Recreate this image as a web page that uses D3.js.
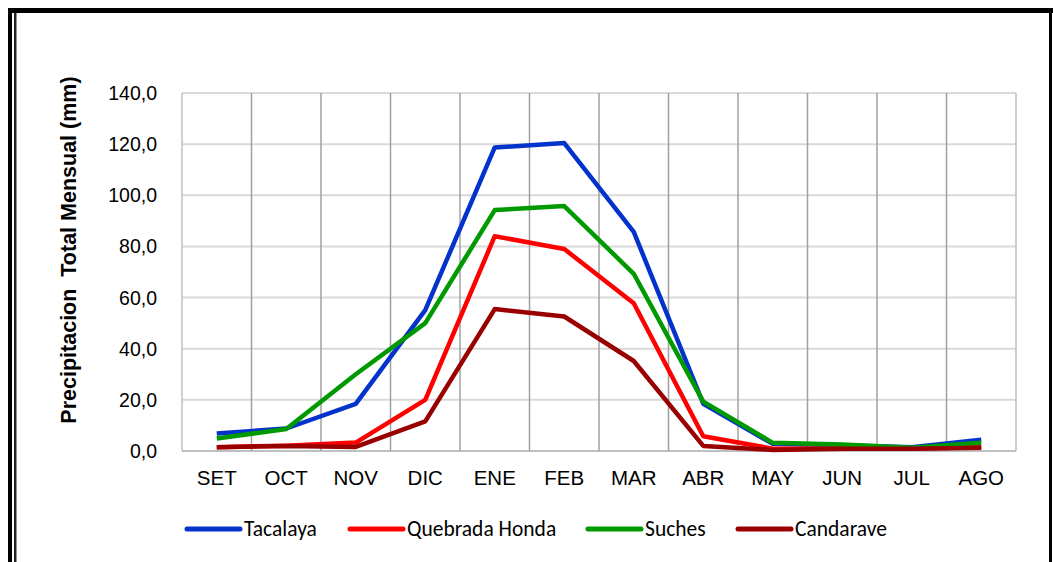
<!DOCTYPE html>
<html lang="es">
<head>
<meta charset="UTF-8">
<title>Precipitacion Total Mensual</title>
<script src="https://d3js.org/d3.v7.min.js"></script>
<style>
  body { margin: 0; padding: 0; background: #fff; overflow: hidden; }
  svg { display: block; }
  .tick-label { font-family: Arial, "Liberation Sans", sans-serif; fill: #000; }
  .legend-text { font-family: Carlito, Calibri, "Liberation Sans Narrow", Lato, sans-serif; font-size: 21.5px; fill: #000; }
</style>
</head>
<body>
<svg id="chart" width="1053" height="562"></svg>
<script>
// months (hydrological year)
const months = ["SET", "OCT", "NOV", "DIC", "ENE", "FEB", "MAR", "ABR", "MAY", "JUN", "JUL", "AGO"];

// monthly total precipitation (mm) per station
const tacalaya       = [6.8, 8.8, 18.4, 55.1, 118.7, 120.4, 85.7, 18.5, 2.8, 2.2, 1.5, 4.4];
const quebradaHonda  = [1.5, 2.1, 3.3, 20.0, 84.0, 79.0, 57.8, 5.8, 0.9, 1.0, 1.0, 1.5];
const suches         = [4.9, 8.6, 30.0, 50.0, 94.2, 95.8, 69.3, 19.3, 3.2, 2.5, 1.3, 3.2];
const candarave      = [1.5, 2.0, 1.6, 11.6, 55.5, 52.6, 35.2, 2.0, 0.4, 0.9, 0.9, 1.3];

const seriesNames  = ["Tacalaya", "Quebrada Honda", "Suches", "Candarave"];
const seriesColors = ["#0433cc", "#ff0000", "#009900", "#990000"];
const yTicks = [0, 20, 40, 60, 80, 100, 120, 140];

const series = [tacalaya, quebradaHonda, suches, candarave].map((vals, i) => ({
  name: seriesNames[i], color: seriesColors[i], values: vals
}));

const svg = d3.select("#chart");
const W = 1053, H = 562;
const plot = { left: 182, right: 1016, top: 93, bottom: 451 };

svg.append("rect").attr("width", W).attr("height", H).attr("fill", "#fff");

// frame borders
svg.append("rect").attr("x", 8).attr("y", 8).attr("width", W - 8).attr("height", 5).attr("fill", "#000");
svg.append("rect").attr("x", 8).attr("y", 8).attr("width", 4).attr("height", H - 8).attr("fill", "#000");
svg.append("rect").attr("x", 14).attr("y", 13).attr("width", 2.5).attr("height", H - 13).attr("fill", "#222");
svg.append("rect").attr("x", 1049).attr("y", 8).attr("width", 3).attr("height", H - 8).attr("fill", "#000");

const x = d3.scaleBand().domain(months).range([plot.left, plot.right]).padding(0);
const y = d3.scaleLinear().domain([0, 140]).range([plot.bottom, plot.top]);

// horizontal gridlines
svg.append("g")
  .selectAll("line")
  .data(yTicks)
  .join("line")
  .attr("x1", plot.left).attr("x2", plot.right)
  .attr("y1", d => y(d)).attr("y2", d => y(d))
  .attr("stroke", d => d === 0 ? "#bfbfbf" : "#d9d9d9")
  .attr("stroke-width", 2);

// vertical gridlines at category boundaries
const bounds = months.map(m => x(m)).concat([plot.right]);
svg.append("g")
  .selectAll("line")
  .data(bounds)
  .join("line")
  .attr("x1", d => d).attr("x2", d => d)
  .attr("y1", plot.top).attr("y2", plot.bottom)
  .attr("stroke", (d, i) => (i === 0 || i === bounds.length - 1) ? "#bfbfbf" : "#a0a0a0")
  .attr("stroke-width", 1.5);

// y tick labels
svg.append("g")
  .selectAll("text")
  .data(yTicks)
  .join("text")
  .attr("class", "tick-label")
  .attr("x", 157)
  .attr("y", d => y(d) + 7)
  .attr("text-anchor", "end")
  .attr("font-size", 19.5)
  .text(d => d3.format(".1f")(d).replace(".", ","));

// x tick labels
svg.append("g")
  .selectAll("text")
  .data(months)
  .join("text")
  .attr("class", "tick-label")
  .attr("x", d => x(d) + x.bandwidth() / 2)
  .attr("y", 485)
  .attr("text-anchor", "middle")
  .attr("font-size", 20.5)
  .text(d => d);

// y axis title
svg.append("text")
  .attr("transform", "translate(76,250) rotate(-90)")
  .attr("text-anchor", "middle")
  .attr("font-family", "Arial, 'Liberation Sans', sans-serif")
  .attr("font-weight", "bold")
  .attr("font-size", 21.5)
  .text("Precipitacion  Total Mensual (mm)")
  .style("white-space", "pre");

// lines
const line = d3.line()
  .x((d, i) => x(months[i]) + x.bandwidth() / 2)
  .y(d => y(d));

svg.append("g")
  .selectAll("path")
  .data(series)
  .join("path")
  .attr("d", d => line(d.values))
  .attr("fill", "none")
  .attr("stroke", d => d.color)
  .attr("stroke-width", 4.5)
  .attr("stroke-linejoin", "round");

// legend
const legendX = [187, 350, 588, 738];
const lg = svg.append("g")
  .selectAll("g")
  .data(series)
  .join("g")
  .attr("transform", (d, i) => `translate(${legendX[i]},529)`);
lg.append("line")
  .attr("x1", 0).attr("x2", 53)
  .attr("stroke", d => d.color)
  .attr("stroke-width", 5)
  .attr("stroke-linecap", "round");
lg.append("text")
  .attr("class", "legend-text")
  .attr("x", 57)
  .attr("y", 7)
  .text(d => d.name);
</script>
</body>
</html>
